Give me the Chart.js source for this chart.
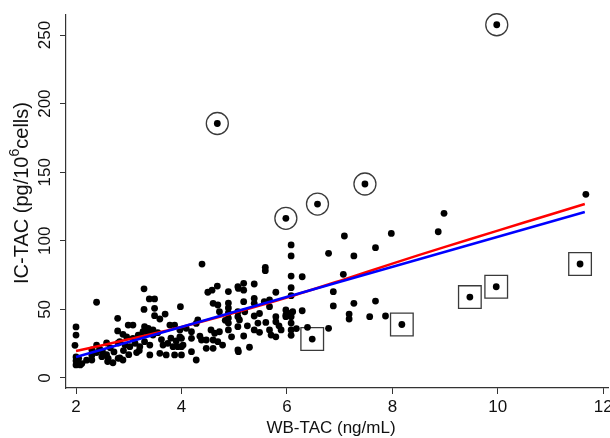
<!DOCTYPE html>
<html><head><meta charset="utf-8">
<script src="https://cdn.jsdelivr.net/npm/chart.js@4/dist/chart.umd.min.js"></script>
<style>html,body{margin:0;padding:0;background:#fff}#wrap{width:610px;height:438px;position:relative}</style>
</head><body><div id="wrap"><canvas id="c" width="610" height="438"></canvas></div>
<script>
const xTicks = [2, 4, 6, 8, 10, 12];
const yTicks = [0, 50, 100, 150, 200, 250];
const xTitle = 'WB-TAC (ng/mL)';
const yTitleMain = 'IC-TAC (pg/10';
const yTitleSup = '6';
const yTitleEnd = 'cells)';

const dotX = [
 2.0,2.0,1.98,2.0,2.0,2.0,2.08,2.05,
 2.11,2.2,2.3,2.3,2.3,2.39,2.39,2.39,2.45,2.49,2.5,
 2.58,2.58,2.6,2.61,2.65,2.7,2.72,2.79,2.79,2.8,2.8,2.83,2.83,2.89,2.89,2.9,2.93,2.96,2.99,3.0,
 3.02,3.08,3.08,3.12,3.18,3.21,3.21,3.27,3.29,3.29,3.3,3.3,3.37,3.37,3.39,3.4,3.4,3.43,3.46,3.46,3.49,3.49,3.49,3.2,3.15,
 3.59,3.59,3.65,3.69,3.71,3.74,3.78,3.84,3.87,3.87,3.93,3.97,3.97,3.98,4.0,4.0,4.0,3.55,3.62,3.8,3.9,
 4.03,4.09,4.19,4.19,4.19,4.28,4.31,4.28,4.38,4.39,4.47,4.47,4.5,4.35,
 4.56,4.58,4.6,4.6,4.6,4.63,4.68,4.69,4.69,4.72,4.72,4.78,4.89,4.89,4.89,4.89,4.89,4.89,4.89,4.95,4.83,
 5.07,5.07,5.07,5.07,5.07,5.08,5.08,5.1,5.18,5.18,5.18,5.18,5.2,5.29,5.38,5.38,5.38,5.38,5.38,5.48,5.48,5.25,5.45,
 5.57,5.59,5.59,5.67,5.67,5.67,5.7,5.79,5.79,5.79,5.79,5.89,5.98,5.98,5.98,5.6,5.85,
 6.08,6.08,6.08,6.08,6.08,6.05,6.08,6.11,6.08,6.08,6.18,6.29,6.29,6.39,6.08,
 6.79,6.79,6.88,6.88,7.07,7.09,7.18,7.18,7.27,7.27,
 7.57,7.68,7.68,7.87,7.98,8.87,8.98,11.67
];
const dotY = [
 37.2,31.3,23.8,15.3,12.5,9.5,9.5,14.3,
 10.5,13,13.1,16.5,20.5,55.2,24,18.5,21,15.5,19.5,
 25.5,17,12,14.3,22,11.1,19,43.5,34.3,25.5,14.3,26.5,14.6,31.8,13.1,20,24,30,38.6,17,
 22.8,38.6,28.9,25.3,31.3,22.8,31.3,33.7,65,50,26.5,37.4,36.2,32.6,57.6,24,16.8,32.5,35,31.3,57.6,50.8,45.4,20,18.5,
 43,18,24,46.6,16.8,25.3,38.6,22.8,38.6,16.8,22.8,30,35,52,16.8,28.9,22.8,33,28,29,27,
 24,36.2,33.7,28.9,19.2,39.8,42.3,13.1,27.7,83,27.7,21.6,62.5,30.5,
 35,64,54.4,27.7,21.6,32.6,67,53.2,26.5,48.3,33.7,24,63,54.6,51,47.4,43.7,40,35,30,42,
 66.5,48.3,44.7,37.4,20.4,65.3,19.2,42.3,69,64,55.6,30.6,48.3,22.4,68.5,58,54.4,45.2,35,47,33.3,38,40,
 55.6,80.7,78.2,56.9,52,35,31.3,62.5,44.7,41,30,35,49.6,46,44.7,40.5,38,
 97,89,74.3,65.8,60,47,44.7,48.3,31.1,35,36,73.8,49,36.9,40,
 90.9,36.2,62.9,52.5,75.6,103.5,46.6,43,89,54.4,
 44.7,95,56.1,45.2,105.4,106.6,120,133.9
];
const circledX = [4.68, 5.98, 6.58, 7.48, 9.98];
const circledY = [185.5, 116.4, 126.8, 141.4, 257.5];
const boxedX = [6.48, 8.18, 9.47, 9.97, 11.56];
const boxedY = [28.4, 39, 59, 66.5, 83.1];
const blueFitX = [2, 11.65];
const blueFitY = [15.3, 121];
const redFitX = [2, 3, 4, 5, 6, 7, 8, 9, 10, 11, 11.65];
const redFitY = [19.7, 28.2, 37.2, 47.5, 58.6, 70.8, 83.4, 95.6, 107.4, 119.2, 126.8];

const pts = (xs, ys) => xs.map((x, i) => ({x: x, y: ys[i]}));
const FONT = '"Liberation Sans", Arial, sans-serif';
const AXIS = '#333333';

const labelsPlugin = {
  id: 'labels',
  afterDraw(chart) {
    const ctx = chart.ctx, ys = chart.scales.y, xs = chart.scales.x;
    ctx.save();
    ctx.fillStyle = '#111';
    ctx.font = '17px ' + FONT;
    ctx.textAlign = 'center';
    ctx.textBaseline = 'middle';
    xTicks.forEach(v => ctx.fillText(String(v), xs.getPixelForValue(v), 407));
    yTicks.forEach(v => {
      ctx.save();
      ctx.translate(45, ys.getPixelForValue(v));
      ctx.rotate(-Math.PI / 2);
      ctx.fillText(String(v), 0, 0);
      ctx.restore();
    });
    ctx.fillText(xTitle, 331, 428);
    const big = '20px ' + FONT, small = '14px ' + FONT;
    ctx.font = big; const w1 = ctx.measureText(yTitleMain).width, w3 = ctx.measureText(yTitleEnd).width;
    ctx.font = small; const w2 = ctx.measureText(yTitleSup).width;
    const total = w1 + w2 + w3;
    ctx.translate(22, 193);
    ctx.rotate(-Math.PI / 2);
    ctx.textAlign = 'left';
    let x0 = -total / 2;
    ctx.font = big; ctx.fillText(yTitleMain, x0, 0); x0 += w1;
    ctx.font = small; ctx.fillText(yTitleSup, x0, -7); x0 += w2;
    ctx.font = big; ctx.fillText(yTitleEnd, x0, 0);
    ctx.restore();
  }
};

new Chart(document.getElementById('c'), {
  type: 'scatter',
  data: {
    datasets: [
      { label: 'blue', type: 'line', data: pts(blueFitX, blueFitY), borderColor: '#0000ff', borderWidth: 2.5, pointRadius: 0, fill: false, order: 0 },
      { label: 'red', type: 'line', data: pts(redFitX, redFitY), borderColor: '#ff0000', borderWidth: 2.5, pointRadius: 0, fill: false, tension: 0.3, order: 1 },
      { label: 'dots', data: pts(dotX.concat(circledX, boxedX), dotY.concat(circledY, boxedY)), backgroundColor: '#000', borderWidth: 0, pointRadius: 3.4, order: 2, clip: false },
      { label: 'circled', data: pts(circledX, circledY), pointStyle: 'circle', pointRadius: 11, backgroundColor: 'rgba(0,0,0,0)', borderColor: '#3a3a3a', borderWidth: 1.3, order: 3, clip: false },
      { label: 'boxed', data: pts(boxedX, boxedY), pointStyle: 'rect', pointRadius: 16, backgroundColor: 'rgba(0,0,0,0)', borderColor: '#3a3a3a', borderWidth: 1.3, order: 3, clip: false }
    ]
  },
  options: {
    responsive: false,
    animation: false,
    devicePixelRatio: 1,
    layout: { autoPadding: false, padding: { top: 15, right: 2, left: 0, bottom: 0 } },
    plugins: { legend: { display: false }, tooltip: { enabled: false } },
    scales: {
      x: {
        type: 'linear', min: 1.81, max: 12.09,
        afterBuildTicks: s => { s.ticks = xTicks.map(v => ({value: v})); },
        afterFit: s => { s.height = 50; },
        grid: { drawOnChartArea: false, drawTicks: true, tickLength: 6, color: AXIS, lineWidth: 1 },
        border: { display: true, color: AXIS, width: 1.2 },
        ticks: { display: false }
      },
      y: {
        type: 'linear', min: -7.3, max: 264.6,
        afterBuildTicks: s => { s.ticks = yTicks.map(v => ({value: v})); },
        afterFit: s => { s.width = 66; },
        grid: { drawOnChartArea: false, drawTicks: true, tickLength: 6, color: AXIS, lineWidth: 1 },
        border: { display: true, color: AXIS, width: 1.2 },
        ticks: { display: false }
      }
    }
  },
  plugins: [labelsPlugin]
});
</script>
</body></html>
